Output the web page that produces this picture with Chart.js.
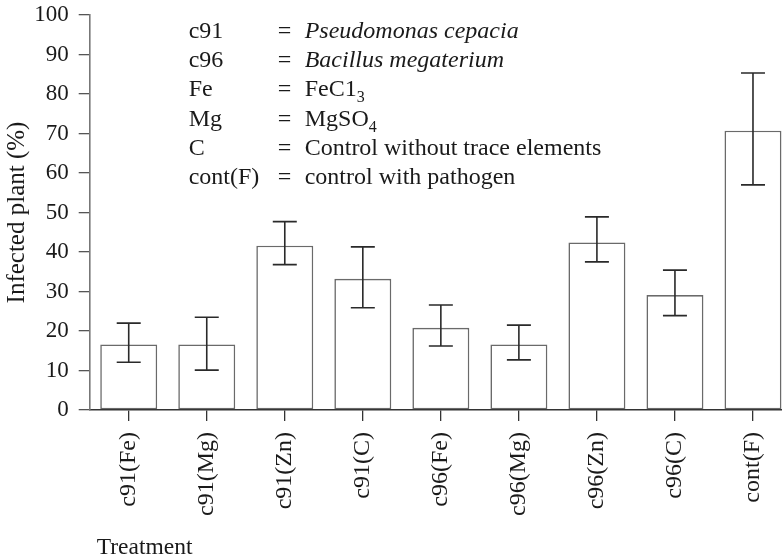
<!DOCTYPE html>
<html>
<head>
<meta charset="utf-8">
<script src="https://cdn.jsdelivr.net/npm/chart.js@4"></script>
<style>
  html, body { margin: 0; padding: 0; background: #fff; overflow: hidden; }
  #wrap { width: 800px; height: 559px; }
</style>
</head>
<body>
<div id="wrap"><canvas id="infectionChart" width="800" height="559"></canvas></div>
<script>
const categories = ['c91(Fe)', 'c91(Mg)', 'c91(Zn)', 'c91(C)', 'c96(Fe)', 'c96(Mg)', 'c96(Zn)', 'c96(C)', 'cont(F)'];
const infected = [16.6, 16.6, 41.6, 33.2, 20.8, 16.6, 42.4, 29.1, 70.7];
const errUpper = [22.0, 23.5, 47.7, 41.3, 26.6, 21.5, 48.9, 35.4, 85.3];
const errLower = [12.1, 10.1, 36.8, 25.9, 16.2, 12.7, 37.5, 23.9, 57.0];
const yTicks = [0, 10, 20, 30, 40, 50, 60, 70, 80, 90, 100];

// legend key
const keyNames = ['c91', 'c96', 'Fe', 'Mg', 'C', 'cont(F)'];
const keyText = ['Pseudomonas cepacia', 'Bacillus megaterium', 'FeC1', 'MgSO', 'Control without trace elements', 'control with pathogen'];
const keySub = ['', '', '3', '4', '', ''];
const keyItalic = [true, true, false, false, false, false];

const serif = '"Liberation Serif", "DejaVu Serif", serif';

// Error bars drawn from the data through the scales
const errorBars = {
  id: 'errorBars',
  afterDatasetsDraw(chart) {
    const { ctx, scales: { x, y } } = chart;
    ctx.save();
    ctx.strokeStyle = '#2a2a2a';
    ctx.lineWidth = 1.6;
    infected.forEach((v, i) => {
      const cx = x.getPixelForValue(i);
      const top = y.getPixelForValue(errUpper[i]);
      const bot = y.getPixelForValue(errLower[i]);
      ctx.beginPath();
      ctx.moveTo(cx, top); ctx.lineTo(cx, bot);
      ctx.moveTo(cx - 12, top); ctx.lineTo(cx + 12, top);
      ctx.moveTo(cx - 12, bot); ctx.lineTo(cx + 12, bot);
      ctx.stroke();
    });
    ctx.restore();
  }
};

// key text in the plot and the "Treatment" caption
const keyBox = {
  id: 'keyBox',
  afterDraw(chart) {
    const { ctx, chartArea } = chart;
    const x0 = chartArea.left + 99;
    const y0 = chartArea.top + 23;
    ctx.save();
    ctx.fillStyle = '#1a1a1a';
    ctx.textBaseline = 'alphabetic';
    keyNames.forEach((k, i) => {
      const yy = y0 + i * 29.2;
      ctx.font = '24px ' + serif;
      ctx.fillText(k, x0, yy);
      ctx.fillText('=', x0 + 89, yy);
      ctx.font = (keyItalic[i] ? 'italic ' : '') + '24px ' + serif;
      ctx.fillText(keyText[i], x0 + 116, yy);
      if (keySub[i]) {
        const w = ctx.measureText(keyText[i]).width;
        ctx.font = '16px ' + serif;
        ctx.fillText(keySub[i], x0 + 116 + w, yy + 6);
      }
    });
    ctx.font = '23.5px ' + serif;
    ctx.fillText('Treatment', chartArea.left + 7, chart.height - 5);
    ctx.restore();
  }
};

new Chart(document.getElementById('infectionChart').getContext('2d'), {
  type: 'bar',
  data: {
    labels: categories,
    datasets: [{
      data: infected,
      backgroundColor: '#ffffff',
      borderColor: '#6a6a6a',
      borderWidth: 1.6,
      borderSkipped: false,
      barPercentage: 0.73,
      categoryPercentage: 1.0
    }]
  },
  options: {
    responsive: false,
    animation: false,
    devicePixelRatio: 1,
    layout: { padding: { top: 0, right: 8, left: 0, bottom: 0 } },
    plugins: { legend: { display: false }, tooltip: { enabled: false } },
    scales: {
      x: {
        offset: true,
        afterFit(scale) { scale.height = 149; scale.paddingLeft = 0; scale.paddingRight = 0; },
        grid: { offset: false, drawOnChartArea: false, drawTicks: true, tickLength: 11, color: '#333', lineWidth: 1.3 },
        border: { color: '#333', width: 1.6 },
        ticks: { maxRotation: 90, minRotation: 90, color: '#1a1a1a', padding: 11, font: { family: serif, size: 24 } }
      },
      y: {
        min: 0, max: 100,
        afterBuildTicks(scale) { scale.ticks = yTicks.map(v => ({ value: v })); },
        afterFit(scale) { scale.width = 89.7; scale.paddingTop = 15; scale.paddingBottom = 0; },
        grid: { drawOnChartArea: false, drawTicks: true, tickLength: 11, color: '#555', lineWidth: 1.3 },
        border: { color: '#777', width: 1.6 },
        ticks: { color: '#1a1a1a', padding: 10, font: { family: serif, size: 23 } },
        title: {
          display: true, text: 'Infected plant (%)', color: '#1a1a1a',
          font: { family: serif, size: 25 }, padding: { top: 2, bottom: 2 }
        }
      }
    }
  },
  plugins: [errorBars, keyBox]
});
</script>
</body>
</html>
